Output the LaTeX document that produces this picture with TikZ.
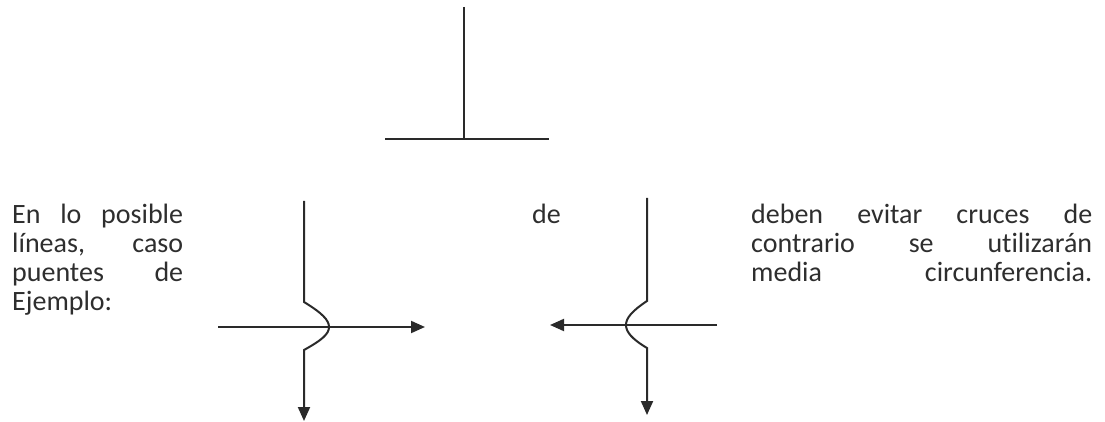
\documentclass[tikz,border=0pt]{standalone}
\usepackage{fontspec}
\setmainfont{Carlito}[RawFeature={-liga}]
\usetikzlibrary{arrows.meta}
\definecolor{ink}{HTML}{2A2A2A}
\definecolor{txt}{HTML}{2E2E2E}
\tikzset{
  wire/.style={draw=ink, line width=2pt},
  flow/.style={wire, -{Triangle[length=14pt,width=12pt]}},
  para/.style={inner sep=0pt, anchor=base west, text=txt,
    font=\fontsize{28}{30}\selectfont},
}
\begin{document}
\begin{tikzpicture}[x=1pt,y=-1pt]
\useasboundingbox (0,0) rectangle (1105,422);

% T-shaped symbol
\coordinate (tTop) at (464,7);
\coordinate (tFoot) at (464,139);
\coordinate (tL) at (385,139);
\coordinate (tR) at (549,139);
\draw[wire] (tTop) -- (tFoot);
\draw[wire] (tL) -- (tR);

% left crossing: vertical line jumps over the horizontal one
\coordinate (aTop) at (304,201);
\coordinate (aB1) at (304,302);
\coordinate (aB2) at (304,350);
\coordinate (aEnd) at (304,421);
\coordinate (hAs) at (218,327);
\coordinate (hAe) at (425,327);
\draw[flow] (hAs) -- (hAe);
\draw[flow] (aTop) -- (aB1)
  .. controls (322,313) and (329,320) .. (329,327)
  .. controls (329,334) and (322,340) .. (aB2) -- (aEnd);

% right crossing: jump bulges to the left, arrow points left
\coordinate (bTop) at (647,198);
\coordinate (bB1) at (647,301);
\coordinate (bB2) at (647,348);
\coordinate (bEnd) at (647,415);
\coordinate (hBs) at (717,325);
\coordinate (hBe) at (550,325);
\draw[flow] (hBs) -- (hBe);
\draw[flow] (bTop) -- (bB1)
  .. controls (632,311) and (626,318) .. (626,325)
  .. controls (626,332) and (632,339) .. (bB2) -- (bEnd);

% justified text on the left
\node[para] (l1) at (12,223) {\hbox to 171pt{En\hfill lo\hfill posible}};
\node[para] (l2) at (12,252) {\hbox to 171pt{líneas,\hfill caso}};
\node[para] (l3) at (12,281) {\hbox to 171pt{puentes\hfill de}};
\node[para] (l4) at (12,310) {Ejemplo:};

% word in the middle
\node[para] (m1) at (532,223) {de};

% justified text on the right
\node[para] (r1) at (751,223) {\hbox to 341pt{deben\hfill evitar\hfill cruces\hfill de}};
\node[para] (r2) at (751,252) {\hbox to 341pt{contrario\hfill se\hfill utilizarán}};
\node[para] (r3) at (751,281) {\hbox to 341pt{media\hfill circunferencia.}};
\end{tikzpicture}
\end{document}
